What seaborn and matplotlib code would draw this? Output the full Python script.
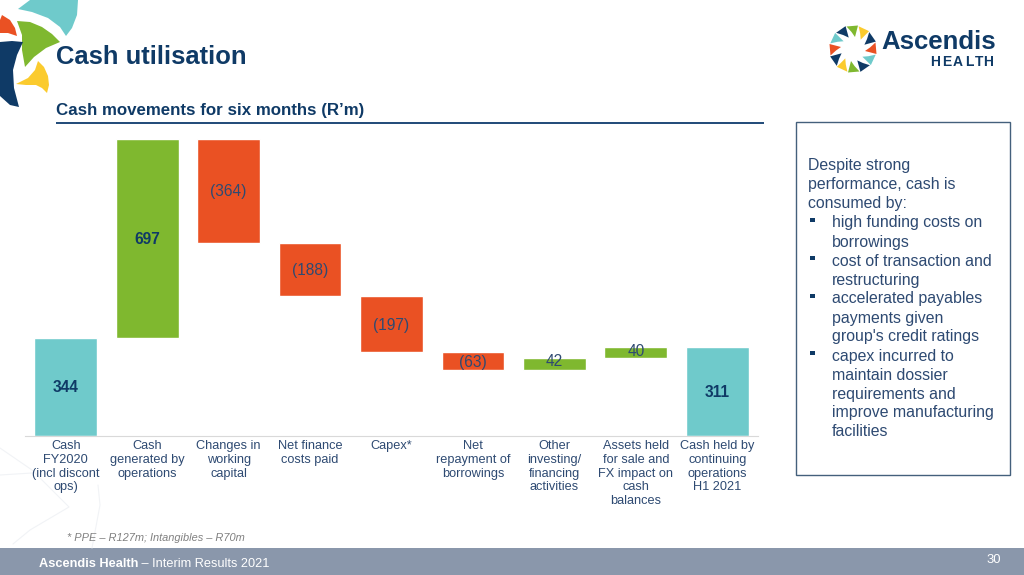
import numpy as np
import pandas as pd
import matplotlib
matplotlib.use("Agg")
import matplotlib.pyplot as plt
from matplotlib.patches import Polygon, Rectangle
import seaborn as sns

categories = ["Cash\nFY2020\n(incl discont\nops)", "Cash\ngenerated by\noperations",
              "Changes in\nworking\ncapital", "Net finance\ncosts paid", "Capex*",
              "Net\nrepayment of\nborrowings", "Other\ninvesting/\nfinancing\nactivities",
              "Assets held\nfor sale and\nFX impact on\ncash\nbalances",
              "Cash held by\ncontinuing\noperations\nH1 2021"]
heights = [344, 697, 364, 188, 197, 63, 42, 40, 311]
bottoms = [0, 344, 677, 489, 292, 229, 229, 271, 0]
kinds = ["total", "up", "down", "down", "down", "down", "up", "up", "total"]
value_labels = ["344", "697", "(364)", "(188)", "(197)", "(63)", "42", "40", "311"]
bullets = ["high funding costs on\nborrowings", "cost of transaction and\nrestructuring",
           "accelerated payables\npayments given\ngroup's credit ratings",
           "capex incurred to\nmaintain dossier\nrequirements and\nimprove manufacturing\nfacilities"]

NAVY = "#0F3A66"
TEXT = "#2E4A72"
TEAL = "#6FCACB"
GREEN = "#7FB82F"
ORANGE = "#EA5123"
YELLOW = "#FBCB2E"
palette = {"total": TEAL, "up": GREEN, "down": ORANGE}

sns.set_theme(style="white")
plt.rcParams["font.family"] = ["Liberation Sans", "DejaVu Sans"]
W, H = 1024, 575
fig = plt.figure(figsize=(W / 100, H / 100), dpi=100, facecolor="white")

# page furniture, drawn in pixel coordinates
pg = fig.add_axes([0, 0, 1, 1], zorder=0)
pg.set_xlim(0, W); pg.set_ylim(H, 0); pg.axis("off")

def shape(verts, color):
    pg.add_patch(Polygon(verts, closed=True, fc=color, ec="none"))

shape([(18, 9), (30, 0), (78, 0), (77, 15), (72, 28), (66, 36), (60, 27), (48, 18), (32, 12)], TEAL)
shape([(17, 21), (30, 22), (42, 27), (52, 34), (60, 42), (46, 48), (34, 57), (25, 67), (22, 50), (22, 35)], GREEN)
shape([(2, 15), (10, 20), (15, 28), (17, 36), (8, 33), (0, 33), (0, 20)], ORANGE)
shape([(38, 61), (44, 67), (48, 76), (49, 85), (47, 93), (42, 88), (36, 85), (26, 85), (16, 84), (28, 78), (35, 70)], YELLOW)
shape([(0, 42), (12, 41), (23, 42), (17, 55), (13, 70), (14, 88), (19, 107), (10, 105), (0, 96)], NAVY)

# footer, faint watermark and rules
pg.add_patch(Rectangle((0, 548), W, 27, fc="#8A97AB", ec="none"))
pg.plot([0, 32, 69, 30, 13], [448, 470, 507, 530, 544], color="#F1F3F6", lw=0.8)
pg.plot([0, 32], [475, 473], color="#F1F3F6", lw=0.8)
pg.plot([98, 100, 92], [485, 505, 548], color="#F1F3F6", lw=0.8)
pg.plot([56, 764], [123, 123], color="#1F4A78", lw=1.4, solid_capstyle="butt")
pg.add_patch(Rectangle((796, 122), 214, 353, fc="white", ec="#44607C", lw=1.0))

pg.text(56, 57, "Cash utilisation", fontsize=18.45, fontweight="bold", color=NAVY, va="center")
pg.text(56, 110, "Cash movements for six months (R\u2019m)", fontsize=12.2, fontweight="bold", color=NAVY, va="center")
pg.text(67, 538, "* PPE \u2013 R127m; Intangibles \u2013 R70m", fontsize=7.95, style="italic", color="#808080", va="center")
t = pg.text(39, 564, "Ascendis Health", fontsize=9.2, fontweight="bold", color="white", va="center")
pg.annotate(" \u2013 Interim Results 2021", xy=(1, 0.5), xycoords=t, fontsize=9.2, color="white", va="center")
pg.text(1001, 560, "30", fontsize=9.4, color="white", va="center", ha="right")

# logo ring
cx, cy = 853, 49
ring = [TEAL, NAVY, GREEN, YELLOW, NAVY, ORANGE, TEAL, NAVY, GREEN, YELLOW, NAVY, ORANGE]
for i, c in enumerate(ring):
    a = np.deg2rad(-150 + i * 30)
    d = np.array([np.cos(a), np.sin(a)])
    n = np.array([-d[1], d[0]])
    m = np.array([cx, cy]) + 17.5 * d
    pts = [m + 5 * d - 6.5 * n, m + 6 * d + 5 * n, m - 5.5 * d + 2 * n, m - 0.5 * d - 1.5 * n]
    shape(pts, c)
pg.text(881, 42, "Ascendis", fontsize=18.5, fontweight="bold", color=NAVY, va="center")
for ch, lx in zip("HEALTH", [935.5, 946.5, 957.5, 969, 979, 988.5]):
    pg.text(lx, 61.5, ch, fontsize=10, fontweight="bold", color=NAVY, va="center", ha="center")

# side text
for yy, line in zip([165.5, 184.5, 203.5], ["Despite strong", "performance, cash is", "consumed by:"]):
    pg.text(808, yy, line, fontsize=11.4, color=TEXT, va="center")
y = 223
for b in bullets:
    pg.add_patch(Rectangle((810, y - 5.5), 4.5, 4.5, fc=NAVY, ec="none"))
    for line in b.split("\n"):
        pg.text(832, y, line, fontsize=11.4, color=TEXT, va="center")
        y += 19

# waterfall: one seaborn bar call per row so each bar keeps its own floating base
df = pd.DataFrame({"category": categories, "height": heights, "bottom": bottoms, "kind": kinds})
L, R, T, B = 25, 758, 139, 435.5
ax = fig.add_axes([L / W, 1 - B / H, (R - L) / W, (B - T) / H], zorder=1)
ax.patch.set_alpha(0)
for i in range(len(df)):
    row = df.iloc[[i]]
    sns.barplot(data=row, x="category", y="height", order=categories, color=palette[kinds[i]],
                width=0.77, bottom=bottoms[i], saturation=1, ax=ax)
ax.set_xlim(-0.5, 8.5)
ax.set_ylim(0, 1041)
ax.set_xlabel(""); ax.set_ylabel("")
ax.set_yticks([])
sns.despine(ax=ax, left=True)
ax.spines["bottom"].set_color("#D9D9D9")
ax.spines["bottom"].set_linewidth(0.8)
ax.tick_params(axis="x", length=0, pad=3.5, labelsize=9.2, labelcolor=TEXT)
for lab in ax.get_xticklabels():
    lab.set_linespacing(1.18)

offsets = [-3, -3, -3, -3, -3, -4, 9, 3, -3]
for i, (h, b, s) in enumerate(zip(heights, bottoms, value_labels)):
    bold = i in (0, 1, 8)
    ax.text(i, b + h / 2 + offsets[i], s, ha="center", va="center", fontsize=11.2,
            fontweight="bold" if bold else "normal", color=NAVY if bold else TEXT)

fig.savefig("out.png", dpi=100)
